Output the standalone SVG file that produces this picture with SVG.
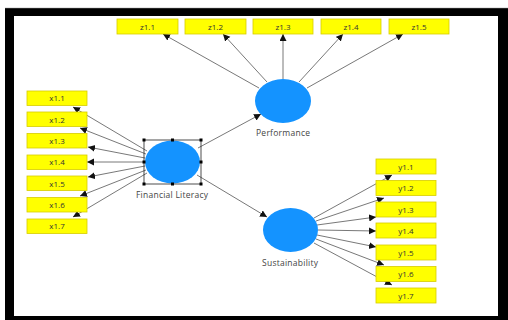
<svg xmlns="http://www.w3.org/2000/svg" width="508" height="320" viewBox="0 0 508 320">
<style>
.box{fill:#FFFF00;stroke:#D6CC00;stroke-width:0.8}
.bt{font-family:"Open Sans","Noto Sans",sans-serif;font-size:8px;fill:#333;text-anchor:middle}
.lv{fill:#1493FF}
.lb{font-family:"Open Sans","Noto Sans",sans-serif;font-size:8.5px;fill:#444;text-anchor:middle}
.c{stroke:#555;stroke-width:0.8;fill:none;marker-end:url(#ah)}
.h{fill:#000}
</style>
<defs>
<marker id="ah" markerUnits="userSpaceOnUse" markerWidth="8" markerHeight="8" refX="7" refY="3.5" orient="auto">
<path d="M0,0 L7,3.5 L0,7 Z" fill="#111"/>
</marker>
</defs>
<rect x="0" y="0" width="508" height="320" fill="#fff"/>
<rect x="5" y="8" width="503" height="312" fill="#000"/>
<rect x="14" y="16" width="484" height="300" fill="#fff"/>
<line x1="5" y1="8" x2="508" y2="8" stroke="#999" stroke-width="0.5"/>

<g id="connectors">
<line class="c" x1="259" y1="88" x2="163" y2="34"/>
<line class="c" x1="267" y1="82" x2="223" y2="34"/>
<line class="c" x1="283" y1="79" x2="283" y2="34"/>
<line class="c" x1="299" y1="82" x2="343" y2="34"/>
<line class="c" x1="307" y1="88" x2="403" y2="34"/>
<line class="c" x1="147" y1="151" x2="73" y2="107"/>
<line class="c" x1="146" y1="154" x2="80" y2="128"/>
<line class="c" x1="145" y1="158" x2="88" y2="147"/>
<line class="c" x1="145" y1="162" x2="87" y2="162"/>
<line class="c" x1="145" y1="166" x2="88" y2="177"/>
<line class="c" x1="146" y1="170" x2="80" y2="196"/>
<line class="c" x1="147" y1="173" x2="73" y2="217"/>
<line class="c" x1="198" y1="148" x2="261" y2="114"/>
<line class="c" x1="197" y1="175" x2="267" y2="217"/>
<line class="c" x1="314" y1="218" x2="392" y2="175"/>
<line class="c" x1="316" y1="221" x2="384" y2="198"/>
<line class="c" x1="317" y1="225" x2="376" y2="217"/>
<line class="c" x1="318" y1="230" x2="376" y2="231"/>
<line class="c" x1="317" y1="235" x2="376" y2="247"/>
<line class="c" x1="316" y1="239" x2="384" y2="265"/>
<line class="c" x1="314" y1="243" x2="392" y2="285"/>
</g>

<g id="z1.1"><rect class="box" x="117" y="19" width="61" height="15"/><text class="bt" x="147.5" y="29.5">z1.1</text></g>
<g id="z1.2"><rect class="box" x="185" y="19" width="61" height="15"/><text class="bt" x="215.5" y="29.5">z1.2</text></g>
<g id="z1.3"><rect class="box" x="253" y="19" width="60" height="15"/><text class="bt" x="283" y="29.5">z1.3</text></g>
<g id="z1.4"><rect class="box" x="321" y="19" width="60" height="15"/><text class="bt" x="351" y="29.5">z1.4</text></g>
<g id="z1.5"><rect class="box" x="389" y="19" width="60" height="15"/><text class="bt" x="419" y="29.5">z1.5</text></g>

<g id="x1.1"><rect class="box" x="27" y="91" width="60" height="14.5"/><text class="bt" x="57" y="101">x1.1</text></g>
<g id="x1.2"><rect class="box" x="27" y="112" width="60" height="14.5"/><text class="bt" x="57" y="122.5">x1.2</text></g>
<g id="x1.3"><rect class="box" x="27" y="133.5" width="60" height="14.5"/><text class="bt" x="57" y="143.5">x1.3</text></g>
<g id="x1.4"><rect class="box" x="27" y="155" width="60" height="14.5"/><text class="bt" x="57" y="165">x1.4</text></g>
<g id="x1.5"><rect class="box" x="27" y="176" width="60" height="14.5"/><text class="bt" x="57" y="186.5">x1.5</text></g>
<g id="x1.6"><rect class="box" x="27" y="197.5" width="60" height="14.5"/><text class="bt" x="57" y="207.5">x1.6</text></g>
<g id="x1.7"><rect class="box" x="27" y="219" width="60" height="14.5"/><text class="bt" x="57" y="229">x1.7</text></g>

<g id="y1.1"><rect class="box" x="376" y="159" width="60" height="15"/><text class="bt" x="406" y="169.5">y1.1</text></g>
<g id="y1.2"><rect class="box" x="376" y="180.5" width="60" height="15"/><text class="bt" x="406" y="191">y1.2</text></g>
<g id="y1.3"><rect class="box" x="376" y="202" width="60" height="15"/><text class="bt" x="406" y="212.5">y1.3</text></g>
<g id="y1.4"><rect class="box" x="376" y="223" width="60" height="15"/><text class="bt" x="406" y="233.5">y1.4</text></g>
<g id="y1.5"><rect class="box" x="376" y="245" width="60" height="15"/><text class="bt" x="406" y="255.5">y1.5</text></g>
<g id="y1.6"><rect class="box" x="376" y="266.5" width="60" height="15"/><text class="bt" x="406" y="277">y1.6</text></g>
<g id="y1.7"><rect class="box" x="376" y="288" width="60" height="15"/><text class="bt" x="406" y="298.5">y1.7</text></g>

<g id="Performance"><ellipse class="lv" cx="283" cy="101" rx="28" ry="22"/><text class="lb" x="283" y="136" textLength="54" lengthAdjust="spacing">Performance</text></g>

<g id="FinancialLiteracy"><ellipse class="lv" cx="172.5" cy="162" rx="27.5" ry="21.5"/>
<rect x="144" y="140" width="57" height="44" fill="none" stroke="#222" stroke-width="0.8"/>
<rect class="h" x="142.5" y="138.5" width="3" height="3"/><rect class="h" x="171" y="138.5" width="3" height="3"/><rect class="h" x="199.5" y="138.5" width="3" height="3"/>
<rect class="h" x="142.5" y="160.5" width="3" height="3"/><rect class="h" x="199.5" y="160.5" width="3" height="3"/>
<rect class="h" x="142.5" y="182.5" width="3" height="3"/><rect class="h" x="171" y="182.5" width="3" height="3"/><rect class="h" x="199.5" y="182.5" width="3" height="3"/>
<text class="lb" x="172" y="197.5" textLength="72" lengthAdjust="spacing">Financial Literacy</text></g>

<g id="Sustainability"><ellipse class="lv" cx="290.5" cy="230" rx="27.5" ry="22"/><text class="lb" x="290" y="266" textLength="56" lengthAdjust="spacing">Sustainability</text></g>
</svg>
